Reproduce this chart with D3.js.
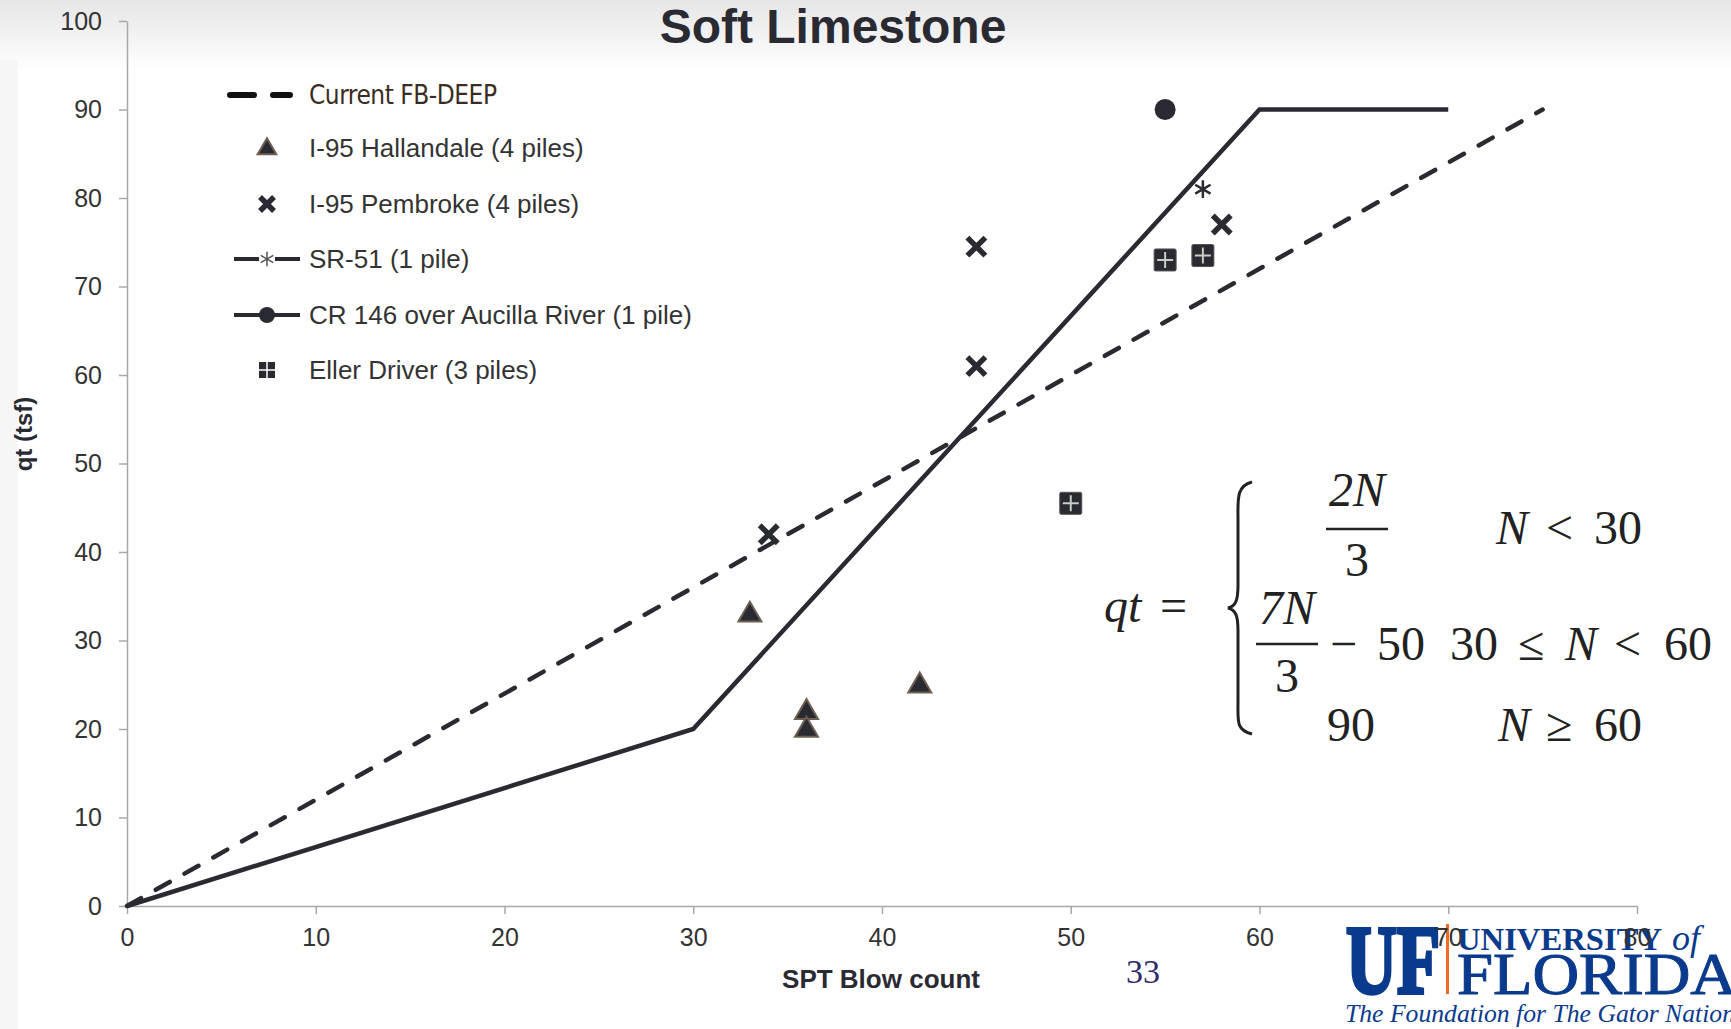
<!DOCTYPE html>
<html>
<head>
<meta charset="utf-8">
<script src="https://cdn.jsdelivr.net/npm/d3@7"></script>
<style>
  html, body { margin: 0; padding: 0; background: #fff; }
  svg { display: block; }
</style>
</head>
<body>
<svg id="chart" width="1731" height="1029"></svg>
<script>
// data
var xTicks = [0, 10, 20, 30, 40, 50, 60, 70, 80];
var yTicks = [0, 10, 20, 30, 40, 50, 60, 70, 80, 90, 100];

var fbDeepN = [0, 75];
var fbDeepQt = [0, 90];
var proposedN = [0, 30, 60, 70];
var proposedQt = [0, 20, 90, 90];

var hallandaleN = [33, 36, 36, 42];
var hallandaleQt = [33, 22, 20, 25];
var pembrokeN = [34, 45, 45, 58];
var pembrokeQt = [42, 74.5, 61, 77];
var sr51N = [57];
var sr51Qt = [81];
var cr146N = [55];
var cr146Qt = [90];
var ellerN = [55, 57, 50];
var ellerQt = [73, 73.5, 45.5];

var legendLabels = ["Current FB-DEEP", "I-95 Hallandale (4 piles)", "I-95 Pembroke (4 piles)",
                    "SR-51 (1 pile)", "CR 146 over Aucilla River (1 pile)", "Eller Driver (3 piles)"];

var zip = function(a, b){ return a.map(function(v, i){ return {n: v, qt: b[i]}; }); };

var svg = d3.select("#chart");
var W = 1731, H = 1029;
var dark = "#2a2a33";
var sans = "'Liberation Sans', Arial, sans-serif";
var serif = "'Liberation Serif', 'Times New Roman', serif";

// slide background
var defs = svg.append("defs");
var grad = defs.append("linearGradient").attr("id", "topFade").attr("x1", 0).attr("y1", 0).attr("x2", 0).attr("y2", 1);
grad.append("stop").attr("offset", "0%").attr("stop-color", "#e6e6e6");
grad.append("stop").attr("offset", "55%").attr("stop-color", "#f3f3f3");
grad.append("stop").attr("offset", "100%").attr("stop-color", "#ffffff");
svg.append("rect").attr("width", W).attr("height", H).attr("fill", "#fff");
svg.append("rect").attr("width", W).attr("height", 70).attr("fill", "url(#topFade)");
svg.append("rect").attr("x", 0).attr("y", 60).attr("width", 18).attr("height", H - 60).attr("fill", "#f6f6f6");

var x = d3.scaleLinear().domain([0, 80]).range([127, 1637]);
var y = d3.scaleLinear().domain([0, 100]).range([906, 21]);

// title
svg.append("text").attr("x", 833).attr("y", 43).attr("text-anchor", "middle")
	.attr("font-family", sans).attr("font-weight", "bold").attr("font-size", 48)
	.attr("fill", dark).text("Soft Limestone");

// UF logo (drawn before the axis so the tick labels sit on top of it)
var logo = svg.append("g");
var ufBlue = "#0a3a8c";
logo.append("text").attr("x", 1346).attr("y", 993).attr("font-family", serif).attr("font-weight", "bold")
	.attr("font-size", 98).attr("textLength", 94).attr("lengthAdjust", "spacingAndGlyphs")
	.attr("fill", ufBlue).attr("stroke", ufBlue).attr("stroke-width", 4).text("UF");
logo.append("rect").attr("x", 1446).attr("y", 924).attr("width", 3).attr("height", 70).attr("fill", "#f26a2a");
logo.append("text").attr("x", 1457).attr("y", 950).attr("font-family", serif).attr("font-weight", "bold")
	.attr("font-size", 32).attr("textLength", 205).attr("lengthAdjust", "spacingAndGlyphs")
	.attr("fill", ufBlue).text("UNIVERSITY");
logo.append("text").attr("x", 1672).attr("y", 950).attr("font-family", serif).attr("font-style", "italic")
	.attr("font-size", 36).attr("fill", ufBlue).text("of");
logo.append("text").attr("x", 1457).attr("y", 994).attr("font-family", serif)
	.attr("font-size", 60).attr("textLength", 280).attr("lengthAdjust", "spacingAndGlyphs")
	.attr("fill", ufBlue).attr("stroke", ufBlue).attr("stroke-width", 1).text("FLORIDA");
logo.append("text").attr("x", 1345).attr("y", 1022).attr("font-family", serif).attr("font-style", "italic")
	.attr("font-size", 25).attr("textLength", 390).attr("lengthAdjust", "spacingAndGlyphs")
	.attr("fill", ufBlue).text("The Foundation for The Gator Nation");

// page number
svg.append("text").attr("x", 1143).attr("y", 983).attr("text-anchor", "middle")
	.attr("font-family", serif).attr("font-size", 34).attr("fill", "#2e2a6a").text("33");

// axes
var xAxis = svg.append("g").attr("transform", "translate(0," + y(0) + ")")
	.call(d3.axisBottom(x).tickValues(xTicks).tickSize(8).tickPadding(14).tickSizeOuter(0));
var yAxis = svg.append("g").attr("transform", "translate(" + x(0) + ",0)")
	.call(d3.axisLeft(y).tickValues(yTicks).tickSize(8).tickPadding(17).tickSizeOuter(0));
[xAxis, yAxis].forEach(function(a){
	a.select(".domain").attr("stroke", "#a8a8a8").attr("stroke-width", 1.5);
	a.selectAll(".tick line").attr("stroke", "#a8a8a8").attr("stroke-width", 1.5);
	a.selectAll(".tick text").attr("font-family", sans).attr("font-size", 25).attr("fill", "#333");
});

svg.append("text").attr("x", 881).attr("y", 988).attr("text-anchor", "middle")
	.attr("font-family", sans).attr("font-weight", "bold").attr("font-size", 26)
	.attr("fill", dark).text("SPT Blow count");
svg.append("text").attr("transform", "translate(32,434) rotate(-90)").attr("text-anchor", "middle")
	.attr("font-family", sans).attr("font-weight", "bold").attr("font-size", 24)
	.attr("fill", dark).text("qt (tsf)");

// lines
var line = d3.line().x(function(d){ return x(d.n); }).y(function(d){ return y(d.qt); });
svg.append("path").datum(zip(fbDeepN, fbDeepQt)).attr("d", line).attr("fill", "none")
	.attr("stroke", dark).attr("stroke-width", 4.5).attr("stroke-dasharray", "16,17").attr("stroke-linecap", "round");
svg.append("path").datum(zip(proposedN, proposedQt)).attr("d", line).attr("fill", "none")
	.attr("stroke", dark).attr("stroke-width", 4.5).attr("stroke-linejoin", "miter");

// marker drawers
function drawTriangle(g, cx, cy, sz){
	g.append("path").attr("d", d3.symbol().type(d3.symbolTriangle).size(sz || 230)())
		.attr("transform", "translate(" + cx + "," + cy + ")")
		.attr("fill", dark).attr("stroke", "#6e5e50").attr("stroke-width", 2);
}
function drawCross(g, cx, cy, s){
	g.append("path").attr("d", "M" + (cx - s) + "," + (cy - s) + "L" + (cx + s) + "," + (cy + s) +
			"M" + (cx - s) + "," + (cy + s) + "L" + (cx + s) + "," + (cy - s))
		.attr("stroke", dark).attr("stroke-width", 5.5).attr("fill", "none");
}
function drawAsterisk(g, cx, cy){
	g.append("path").attr("d", d3.symbol().type(d3.symbolAsterisk).size(220)())
		.attr("transform", "translate(" + cx + "," + cy + ")")
		.attr("fill", "none").attr("stroke", dark).attr("stroke-width", 2.5);
}
function drawCircle(g, cx, cy, r){
	g.append("circle").attr("cx", cx).attr("cy", cy).attr("r", r).attr("fill", dark);
}
function drawSquare(g, cx, cy, s){
	g.append("rect").attr("x", cx - s).attr("y", cy - s).attr("width", 2 * s).attr("height", 2 * s)
		.attr("rx", 1.5).attr("fill", dark).attr("stroke", "#555").attr("stroke-width", 1);
	g.append("path").attr("d", "M" + cx + "," + (cy - s + 3) + "V" + (cy + s - 3) + "M" + (cx - s + 3) + "," + cy + "H" + (cx + s - 3))
		.attr("stroke", "#c8ccc4").attr("stroke-width", 2);
}

var pts = svg.append("g");
zip(hallandaleN, hallandaleQt).forEach(function(d){ drawTriangle(pts, x(d.n), y(d.qt) + 1); });
zip(pembrokeN, pembrokeQt).forEach(function(d){ drawCross(pts, x(d.n), y(d.qt), 9); });
zip(sr51N, sr51Qt).forEach(function(d){ drawAsterisk(pts, x(d.n), y(d.qt)); });
zip(cr146N, cr146Qt).forEach(function(d){ drawCircle(pts, x(d.n), y(d.qt), 10.5); });
zip(ellerN, ellerQt).forEach(function(d){ drawSquare(pts, x(d.n), y(d.qt), 11); });

// legend
var lg = svg.append("g");
var legY = [95, 148, 204, 259, 315, 370];
var symX = 267, textX = 309;
lg.append("path").attr("d", "M230," + legY[0] + "H254M273," + legY[0] + "H290")
	.attr("stroke", "#111").attr("stroke-width", 6).attr("stroke-linecap", "round");
drawTriangle(lg, symX, legY[1] + 1, 150);
drawCross(lg, symX, legY[2], 7);
lg.append("path").attr("d", "M234," + legY[3] + "H300").attr("stroke", dark).attr("stroke-width", 4);
lg.append("rect").attr("x", 259).attr("y", legY[3] - 3).attr("width", 16).attr("height", 6).attr("fill", "#fff");
lg.append("path").attr("d", d3.symbol().type(d3.symbolAsterisk).size(150)())
	.attr("transform", "translate(" + symX + "," + legY[3] + ")")
	.attr("fill", "none").attr("stroke", "#555").attr("stroke-width", 1.5);
lg.append("path").attr("d", "M234," + legY[4] + "H300").attr("stroke", dark).attr("stroke-width", 4);
drawCircle(lg, symX, legY[4], 8);
lg.append("rect").attr("x", symX - 8).attr("y", legY[5] - 8).attr("width", 16).attr("height", 16).attr("fill", dark);
lg.append("path").attr("d", "M" + symX + "," + (legY[5] - 8) + "V" + (legY[5] + 8) + "M" + (symX - 8) + "," + legY[5] + "H" + (symX + 8))
	.attr("stroke", "#fff").attr("stroke-width", 1.5);

lg.selectAll("text.leg").data(legendLabels).enter().append("text")
	.attr("class", "leg")
	.attr("x", textX).attr("y", function(d, i){ return legY[i] + 9; })
	.attr("font-family", function(d, i){ return i === 0 ? "'Liberation Sans Narrow', 'DejaVu Sans Condensed', sans-serif" : sans; })
	.attr("font-size", 26)
	.attr("textLength", function(d, i){ return i === 0 ? 188 : null; })
	.attr("fill", function(d, i){ return i === 0 ? "#3a2c22" : "#333"; })
	.text(function(d){ return d; });

// formula annotation
var fm = svg.append("g").attr("font-family", serif).attr("font-size", 48).attr("fill", "#222");
function piece(px, py, s, italic){
	fm.append("text").attr("x", px).attr("y", py).attr("font-style", italic ? "italic" : "normal").text(s);
}
piece(1104, 622, "qt", true);
piece(1160, 622, "=");
fm.append("path").attr("d", "M1252,482 C1236,486 1238,500 1238,520 L1238,585 C1238,600 1236,606 1228,608 C1236,610 1238,616 1238,631 L1238,700 C1238,722 1236,730 1252,734")
	.attr("fill", "none").attr("stroke", "#222").attr("stroke-width", 3);
function frac(cx, numY, barY, denY, w, num){
	fm.append("text").attr("x", cx).attr("y", numY).attr("text-anchor", "middle").attr("font-style", "italic").text(num);
	fm.append("line").attr("x1", cx - w / 2).attr("x2", cx + w / 2).attr("y1", barY).attr("y2", barY).attr("stroke", "#222").attr("stroke-width", 2.5);
	fm.append("text").attr("x", cx).attr("y", denY).attr("text-anchor", "middle").text("3");
}
frac(1357, 506, 529, 576, 62, "2N");
frac(1287, 624, 644, 692, 62, "7N");
// row 1
piece(1496, 544, "N", true); piece(1546, 544, "<"); piece(1594, 544, "30");
// row 2
piece(1330, 660, "\u2212"); piece(1377, 660, "50"); piece(1450, 660, "30");
piece(1518, 660, "\u2264"); piece(1565, 660, "N", true); piece(1614, 660, "<"); piece(1664, 660, "60");
// row 3
piece(1327, 741, "90"); piece(1498, 741, "N", true); piece(1546, 741, "\u2265"); piece(1594, 741, "60");
</script>
</body>
</html>
